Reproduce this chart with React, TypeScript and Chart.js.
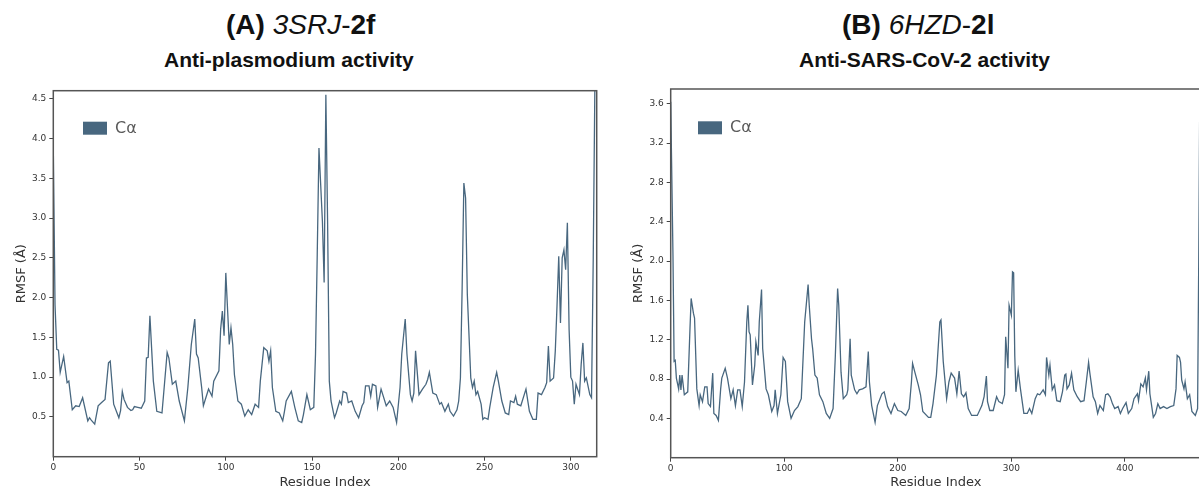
import React, { useEffect, useRef } from "react";
import { Chart, registerables } from "chart.js";

Chart.register(...registerables);

// ---------- Data ----------
const seriesLabel = "Cα";

const residuesA = [
  0, 1, 2, 3, 4, 6, 8, 9, 11, 13, 15, 17, 20, 21, 22, 24, 26, 28, 30, 32, 33, 35, 38, 39, 40, 41, 43, 45, 46, 47, 49,
  51, 53, 54, 55, 56, 58, 60, 63, 64, 66, 67, 69, 71, 73, 76, 78, 80, 82, 83, 84, 86, 87, 90, 92, 93, 96, 97, 98, 99,
  100, 102, 103, 104, 105, 107, 109, 111, 113, 115, 117, 119, 120, 122, 123, 124, 125, 126, 127, 129, 131, 133, 134,
  135, 138, 140, 142, 144, 145, 147, 149, 151, 152, 153, 154, 156, 157, 158, 159, 160, 161, 163, 164, 166, 167, 168,
  170, 171, 173, 175, 177, 179, 180, 181, 183, 184, 185, 187, 188, 190, 191, 193, 195, 197, 199, 201, 202, 204, 205,
  207, 208, 209, 210, 212, 214, 216, 217, 218, 220, 222, 224, 225, 227, 229, 230, 232, 234, 235, 236, 237, 238, 239,
  240, 242, 243, 244, 245, 246, 248, 249, 250, 252, 253, 255, 257, 258, 260, 262, 264, 265, 267, 268, 269, 271, 273,
  274, 276, 278, 280, 281, 283, 285, 286, 287, 288, 290, 291, 292, 293, 294, 295, 296, 297, 298, 299, 300, 301, 302,
  303, 305, 306, 307, 308, 309, 311, 312, 313, 314, 315,
];
const rmsfA = [
  3.88, 1.91, 1.35, 1.34, 1.06, 1.26, 0.93, 0.95, 0.59, 0.64, 0.63, 0.74, 0.45, 0.49, 0.46, 0.41, 0.64, 0.68, 0.72,
  1.18, 1.2, 0.66, 0.49, 0.58, 0.82, 0.72, 0.62, 0.58, 0.59, 0.63, 0.62, 0.61, 0.7, 1.24, 1.25, 1.77, 0.95, 0.57,
  0.55, 0.8, 1.31, 1.24, 0.91, 0.95, 0.7, 0.45, 0.87, 1.41, 1.73, 1.29, 1.24, 0.87, 0.64, 0.85, 0.76, 0.95, 1.08, 1.6,
  1.83, 1.52, 2.31, 1.41, 1.62, 1.41, 1.03, 0.7, 0.66, 0.51, 0.59, 0.53, 0.66, 0.62, 0.95, 1.37, 1.35, 1.33, 1.2,
  1.33, 0.87, 0.57, 0.55, 0.45, 0.57, 0.7, 0.82, 0.62, 0.45, 0.43, 0.53, 0.78, 0.59, 0.62, 1.29, 2.54, 3.88, 2.96,
  2.19, 4.55, 2.96, 0.95, 0.7, 0.49, 0.55, 0.7, 0.66, 0.82, 0.8, 0.68, 0.7, 0.57, 0.49, 0.64, 0.68, 0.89, 0.89, 0.76,
  0.91, 0.89, 0.62, 0.85, 0.78, 0.64, 0.7, 0.62, 0.43, 0.87, 1.29, 1.73, 1.29, 0.78, 0.7, 0.8, 1.33, 0.78, 0.85, 0.91,
  0.97, 1.06, 0.8, 0.78, 0.66, 0.68, 0.57, 0.66, 0.57, 0.51, 0.59, 0.7, 0.99, 2.12, 3.44, 3.25, 2.04, 0.99, 0.87,
  0.95, 0.78, 0.82, 0.66, 0.47, 0.49, 0.47, 0.62, 0.87, 1.06, 0.95, 0.7, 0.55, 0.53, 0.7, 0.68, 0.76, 0.66, 0.64,
  0.78, 0.85, 0.57, 0.47, 0.47, 0.8, 0.78, 0.87, 0.93, 1.39, 0.95, 0.99, 1.33, 1.9, 2.52, 1.68, 2.5, 2.6, 2.35, 2.94,
  1.6, 1.0, 0.95, 0.66, 0.91, 0.78, 1.16, 1.43, 0.95, 0.99, 0.78, 0.74, 2.5, 4.8, 4.8,
];

const residuesB = [
  0, 2, 3, 4, 5, 7, 8, 9, 10, 12, 15, 17, 18, 20, 21, 23, 25, 26, 28, 30, 32, 33, 35, 37, 38, 40, 42, 44, 45, 48, 50,
  53, 55, 57, 59, 61, 63, 65, 67, 68, 69, 70, 72, 74, 75, 77, 78, 80, 81, 84, 86, 89, 91, 92, 94, 97, 99, 101, 103,
  106, 109, 112, 115, 118, 121, 122, 124, 125, 127, 129, 131, 134, 137, 140, 143, 145, 147, 148, 150, 152, 155, 156,
  158, 159, 162, 164, 166, 169, 172, 174, 175, 177, 180, 182, 186, 188, 191, 194, 197, 200, 203, 207, 210, 212, 213,
  215, 218, 220, 222, 227, 229, 231, 234, 237, 238, 240, 243, 245, 247, 250, 252, 254, 256, 258, 260, 262, 265, 270,
  274, 276, 278, 279, 281, 284, 287, 289, 292, 294, 295, 297, 298, 300, 301, 302, 303, 304, 306, 308, 311, 314, 316,
  318, 321, 323, 325, 328, 330, 331, 333, 334, 336, 338, 340, 343, 345, 347, 348, 349, 351, 353, 355, 358, 361, 364,
  366, 368, 369, 372, 374, 376, 378, 381, 383, 385, 387, 389, 391, 394, 396, 398, 401, 403, 406, 408, 411, 412, 414,
  416, 418, 419, 421, 422, 425, 427, 429, 431, 434, 437, 440, 443, 445, 446, 448, 449, 450, 452, 453, 455, 457, 459,
  462, 464, 465, 466,
];
const rmsfB = [
  3.62, 2.06, 0.98, 0.99, 0.81, 0.7, 0.84, 0.69, 0.84, 0.64, 0.67, 1.32, 1.62, 1.47, 1.42, 0.7, 0.53, 0.64, 0.57,
  0.72, 0.72, 0.55, 0.52, 0.86, 0.45, 0.43, 0.38, 0.7, 0.81, 0.91, 0.81, 0.6, 0.69, 0.53, 0.69, 0.69, 0.52, 0.77,
  1.38, 1.55, 1.28, 1.25, 0.74, 0.94, 1.18, 1.04, 1.38, 1.71, 1.11, 0.7, 0.64, 0.47, 0.53, 0.69, 0.45, 0.64, 1.02,
  0.98, 0.57, 0.4, 0.48, 0.52, 0.6, 1.38, 1.76, 1.55, 1.21, 1.11, 0.84, 0.81, 0.64, 0.57, 0.45, 0.4, 0.5, 1.04, 1.72,
  1.55, 0.87, 0.6, 0.64, 0.69, 1.21, 0.84, 0.69, 0.65, 0.69, 0.7, 0.72, 1.08, 0.77, 0.53, 0.36, 0.53, 0.65, 0.67,
  0.52, 0.45, 0.55, 0.48, 0.47, 0.43, 0.5, 0.77, 0.96, 0.87, 0.74, 0.64, 0.47, 0.41, 0.41, 0.55, 0.84, 1.38, 1.4,
  0.98, 0.6, 0.77, 0.86, 0.81, 0.65, 0.88, 0.65, 0.62, 0.66, 0.5, 0.43, 0.43, 0.53, 0.62, 0.83, 0.57, 0.48, 0.48,
  0.62, 0.57, 0.55, 0.64, 1.23, 0.91, 1.55, 1.45, 1.89, 1.88, 1.04, 0.67, 0.89, 0.7, 0.45, 0.45, 0.5, 0.45, 0.6, 0.65,
  0.64, 0.69, 0.64, 1.02, 0.84, 0.94, 0.69, 0.74, 0.58, 0.57, 0.67, 0.84, 0.85, 0.7, 0.74, 0.86, 0.69, 0.62, 0.57,
  0.58, 0.77, 0.97, 0.87, 0.62, 0.57, 0.45, 0.53, 0.48, 0.64, 0.65, 0.62, 0.55, 0.5, 0.52, 0.45, 0.5, 0.56, 0.45, 0.5,
  0.6, 0.65, 0.58, 0.75, 0.72, 0.81, 0.69, 0.88, 0.65, 0.41, 0.45, 0.55, 0.5, 0.52, 0.5, 0.52, 0.53, 0.7, 1.04, 1.02,
  0.97, 0.79, 0.7, 0.77, 0.6, 0.64, 0.47, 0.43, 0.5, 2.0, 3.8,
];

const xTicksA = [0, 50, 100, 150, 200, 250, 300];
const yTicksA = [0.5, 1.0, 1.5, 2.0, 2.5, 3.0, 3.5, 4.0, 4.5];
const xTicksB = [0, 100, 200, 300, 400];
const yTicksB = [0.4, 0.8, 1.2, 1.6, 2.0, 2.4, 2.8, 3.2, 3.6];

// ---------- Styling ----------
const LINE_COLOR = "#48677f";
const TEXT_COLOR = "#333333";
const FRAME_COLOR = "#555555";
const FONT = "'DejaVu Sans', sans-serif";

const frameLegendPlugin = {
  id: "frameLegend",
  afterDraw(chart: any, _args: any, opts: any) {
    const { ctx, chartArea } = chart;
    const { left, top, right, bottom } = chartArea;
    ctx.save();
    ctx.strokeStyle = FRAME_COLOR;
    ctx.lineWidth = 1.5;
    ctx.strokeRect(left, top, right - left, bottom - top);
    const ds = chart.data.datasets[0];
    const bx = left + (opts.lx ?? 29);
    const by = top + (opts.ly ?? 31);
    ctx.fillStyle = ds.borderColor;
    ctx.fillRect(bx, by, 24, 13);
    ctx.fillStyle = "#5a5a5a";
    ctx.font = `16px ${FONT}`;
    ctx.textBaseline = "middle";
    ctx.textAlign = "left";
    ctx.fillText(ds.label, bx + 32, by + 7);
    ctx.restore();
  },
};

type ChartProps = {
  residues: number[];
  values: number[];
  xTicks: number[];
  yTicks: number[];
  xMax: number;
  yMax: number;
  width: number;
  height: number;
  padTop: number;
  padRight: number;
  yAxisWidth: number;
  xAxisHeight: number;
  legendOffset: { lx: number; ly: number };
};

function RmsfChart(p: ChartProps) {
  const ref = useRef<HTMLCanvasElement | null>(null);
  useEffect(() => {
    if (!ref.current) return;
    const chart = new Chart(ref.current, {
      type: "line",
      data: {
        datasets: [
          {
            label: seriesLabel,
            data: p.residues.map((r, i) => ({ x: r, y: p.values[i] })),
            borderColor: LINE_COLOR,
            backgroundColor: LINE_COLOR,
            borderWidth: 1.3,
            pointRadius: 0,
            tension: 0,
            fill: false,
          },
        ],
      },
      options: {
        animation: false,
        responsive: false,
        maintainAspectRatio: false,
        layout: { padding: { top: p.padTop, right: p.padRight, left: 0, bottom: 0 } },
        plugins: {
          legend: { display: false },
          tooltip: { enabled: false },
          frameLegend: p.legendOffset,
        } as any,
        scales: {
          x: {
            type: "linear",
            min: 0,
            max: p.xMax,
            afterBuildTicks: (s: any) => {
              s.ticks = p.xTicks.map((v) => ({ value: v }));
            },
            afterFit: (s: any) => {
              s.height = p.xAxisHeight;
            },
            ticks: {
              color: TEXT_COLOR,
              font: { family: FONT, size: 9 },
              padding: 2,
              maxRotation: 0,
              autoSkip: false,
              callback: (v: any) => String(v),
            },
            grid: { display: true, drawOnChartArea: false, drawTicks: true, tickLength: 4, color: "#444" },
            border: { display: false },
            title: {
              display: true,
              text: "Residue Index",
              color: TEXT_COLOR,
              font: { family: FONT, size: 13 },
              padding: { top: 0, bottom: 0 },
            },
          },
          y: {
            type: "linear",
            min: 0,
            max: p.yMax,
            afterBuildTicks: (s: any) => {
              s.ticks = p.yTicks.map((v) => ({ value: v }));
            },
            afterFit: (s: any) => {
              s.width = p.yAxisWidth;
            },
            ticks: {
              color: TEXT_COLOR,
              font: { family: FONT, size: 9 },
              padding: 3,
              autoSkip: false,
              callback: (v: any) => Number(v).toFixed(1),
            },
            grid: { display: true, drawOnChartArea: false, drawTicks: true, tickLength: 4, color: "#444" },
            border: { display: false },
            title: {
              display: true,
              text: "RMSF (Å)",
              color: TEXT_COLOR,
              font: { family: FONT, size: 13 },
              padding: { top: 14, bottom: 0 },
            },
          },
        },
      },
      plugins: [frameLegendPlugin],
    } as any);
    return () => chart.destroy();
  }, []);
  return (
    <canvas
      ref={ref}
      width={p.width}
      height={p.height}
      style={{ width: p.width, height: p.height, display: "block" }}
    />
  );
}

const titleBase: React.CSSProperties = {
  position: "absolute",
  whiteSpace: "nowrap",
  fontFamily: "'Liberation Sans', Arial, sans-serif",
  color: "#111",
  lineHeight: 1,
};

export default function App() {
  return (
    <div style={{ position: "fixed", left: 0, top: 0, width: 1199, height: 490, overflow: "hidden", background: "#fff" }}>
      <div style={{ ...titleBase, left: 226, top: 11, fontSize: 28 }}>
        <b>(A)</b> <i>3SRJ</i>-<b>2f</b>
      </div>
      <div style={{ ...titleBase, left: 164, top: 49, fontSize: 21, fontWeight: 700 }}>Anti-plasmodium activity</div>
      <div style={{ ...titleBase, left: 842, top: 11, fontSize: 28 }}>
        <b>(B)</b> <i>6HZD</i>-<b>2l</b>
      </div>
      <div style={{ ...titleBase, left: 799, top: 49, fontSize: 21, fontWeight: 700 }}>Anti-SARS-CoV-2 activity</div>

      <div style={{ position: "absolute", left: 0, top: 0 }}>
        <RmsfChart
          residues={residuesA}
          values={rmsfA}
          xTicks={xTicksA}
          yTicks={yTicksA}
          xMax={315}
          yMax={4.6}
          width={610}
          height={490}
          padTop={90.7}
          padRight={13.3}
          yAxisWidth={53.3}
          xAxisHeight={33.3}
          legendOffset={{ lx: 29.7, ly: 31 }}
        />
      </div>
      <div style={{ position: "absolute", left: 617, top: 0 }}>
        <RmsfChart
          residues={residuesB}
          values={rmsfB}
          xTicks={xTicksB}
          yTicks={yTicksB}
          xMax={467}
          yMax={3.75}
          width={600}
          height={490}
          padTop={89}
          padRight={16}
          yAxisWidth={53.7}
          xAxisHeight={32.3}
          legendOffset={{ lx: 27.3, ly: 32.3 }}
        />
      </div>
    </div>
  );
}
